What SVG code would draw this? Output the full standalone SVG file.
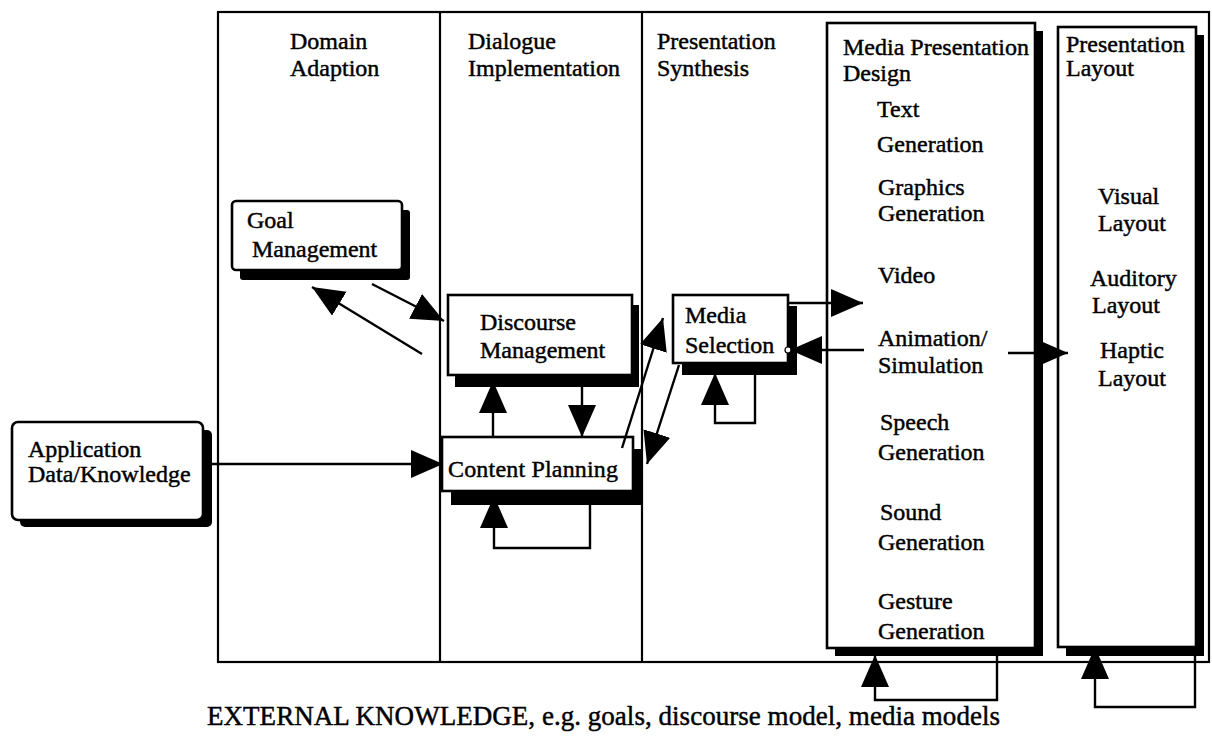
<svg xmlns="http://www.w3.org/2000/svg" width="1212" height="749" viewBox="0 0 1212 749">
  <style>
    text { font-family: "Liberation Serif", "Times New Roman", serif; font-size: 24px; fill: #000; stroke: #000; stroke-width: 0.45; }
    text.caption { font-size: 27px; }
    .frame { fill: none; stroke: #000; stroke-width: 2.2; }
    .box { fill: #fff; stroke: #000; stroke-width: 2.6; }
    .shadow { fill: #000; }
    .arrow { fill: none; stroke: #000; stroke-width: 2.4; marker-end: url(#head); }
  </style>
  <defs>
    <marker id="head" markerUnits="userSpaceOnUse" markerWidth="34" markerHeight="30" refX="32" refY="14" orient="auto">
      <path d="M0,0 L32,14 L0,28 z" fill="#000"/>
    </marker>
  </defs>

  <rect width="1212" height="749" fill="#fff"/>

  <!-- outer frame and column dividers -->
  <g id="frame">
    <rect class="frame" x="218" y="12" width="991" height="650"/>
    <line class="frame" x1="440" y1="12" x2="440" y2="662"/>
    <line class="frame" x1="642" y1="12" x2="642" y2="662"/>
  </g>

  <!-- column headings -->
  <g id="col-domain">
    <text x="290" y="49">Domain</text>
    <text x="290" y="76">Adaption</text>
  </g>
  <g id="col-dialogue">
    <text x="468" y="49">Dialogue</text>
    <text x="468" y="76">Implementation</text>
  </g>
  <g id="col-synthesis">
    <text x="657" y="49">Presentation</text>
    <text x="657" y="76">Synthesis</text>
  </g>

  <!-- media presentation design column -->
  <g id="media-design">
    <rect class="shadow" x="835" y="31" width="208" height="625"/>
    <rect class="box" x="827" y="23" width="208" height="625"/>
    <text x="843" y="55">Media Presentation</text>
    <text x="843" y="81">Design</text>
    <text x="877" y="117">Text</text>
    <text x="877" y="152">Generation</text>
    <text x="878" y="195">Graphics</text>
    <text x="878" y="221">Generation</text>
    <text x="878" y="283">Video</text>
    <text x="878" y="346">Animation/</text>
    <text x="878" y="373">Simulation</text>
    <text x="880" y="430">Speech</text>
    <text x="878" y="460">Generation</text>
    <text x="880" y="520">Sound</text>
    <text x="878" y="550">Generation</text>
    <text x="878" y="609">Gesture</text>
    <text x="878" y="639">Generation</text>
  </g>

  <!-- presentation layout column -->
  <g id="presentation-layout">
    <rect class="shadow" x="1066" y="35" width="138" height="621"/>
    <rect class="box" x="1058" y="27" width="138" height="620"/>
    <text x="1066" y="52">Presentation</text>
    <text x="1066" y="76">Layout</text>
    <text x="1098" y="204">Visual</text>
    <text x="1098" y="231">Layout</text>
    <text x="1090" y="286">Auditory</text>
    <text x="1092" y="313">Layout</text>
    <text x="1100" y="358">Haptic</text>
    <text x="1098" y="386">Layout</text>
  </g>

  <g id="goal-management">
    <rect class="shadow" x="240" y="210" width="170" height="70" rx="3"/>
    <rect class="box" x="232" y="201" width="170" height="69" rx="4"/>
    <text x="247" y="228">Goal</text>
    <text x="252" y="257">Management</text>
  </g>

  <g id="discourse-management">
    <rect class="shadow" x="455" y="305" width="184" height="82"/>
    <rect class="box" x="448" y="295" width="184" height="80"/>
    <text x="480" y="330">Discourse</text>
    <text x="480" y="358">Management</text>
  </g>

  <g id="content-planning">
    <rect class="shadow" x="451" y="449" width="192" height="56"/>
    <rect class="box" x="442" y="437" width="191" height="54"/>
    <text x="448" y="477" textLength="170">Content Planning</text>
  </g>

  <g id="media-selection">
    <rect class="shadow" x="682" y="306" width="115" height="69"/>
    <rect class="box" x="673" y="295" width="115" height="68"/>
    <text x="685" y="323">Media</text>
    <text x="685" y="353">Selection</text>
  </g>

  <g id="application-data">
    <rect class="shadow" x="20" y="430" width="192" height="97" rx="5"/>
    <rect class="box" x="12" y="422" width="191" height="98" rx="6"/>
    <text x="28" y="457">Application</text>
    <text x="28" y="482">Data/Knowledge</text>
  </g>

  <!-- connectors -->
  <g id="connectors">
    <!-- goal management <-> discourse management -->
    <line class="arrow" x1="372" y1="284" x2="444" y2="321"/>
    <line class="arrow" x1="422" y1="354" x2="312" y2="287"/>
    <!-- application data -> content planning -->
    <line class="arrow" x1="212" y1="464" x2="443" y2="464"/>
    <!-- content planning <-> discourse management -->
    <line class="arrow" x1="493" y1="437" x2="493" y2="381"/>
    <line class="arrow" x1="582" y1="387" x2="582" y2="437"/>
    <!-- content planning self loop -->
    <polyline class="arrow" points="590,505 590,548 494,548 494,496"/>
    <!-- content planning <-> media selection -->
    <line class="arrow" x1="622" y1="448" x2="663" y2="318"/>
    <line class="arrow" x1="679" y1="365" x2="647" y2="464"/>
    <!-- media selection self loop -->
    <polyline class="arrow" points="755,375 755,423 715,423 715,373"/>
    <!-- media selection <-> media presentation design -->
    <line class="arrow" x1="788" y1="303" x2="863" y2="303"/>
    <line class="arrow" x1="864" y1="350" x2="790" y2="350"/>
    <circle cx="788" cy="350" r="3" fill="#fff" stroke="#000" stroke-width="1.2"/>
    <!-- media presentation design -> presentation layout -->
    <line class="arrow" x1="1008" y1="353" x2="1068" y2="353"/>
    <!-- bottom self loops -->
    <polyline class="arrow" points="997,652 997,700 875,700 875,655"/>
    <polyline class="arrow" points="1195,651 1195,707 1095,707 1095,647"/>
  </g>

  <text id="caption" class="caption" x="207" y="725" textLength="793" lengthAdjust="spacing">EXTERNAL KNOWLEDGE, e.g. goals, discourse model, media models</text>
</svg>
